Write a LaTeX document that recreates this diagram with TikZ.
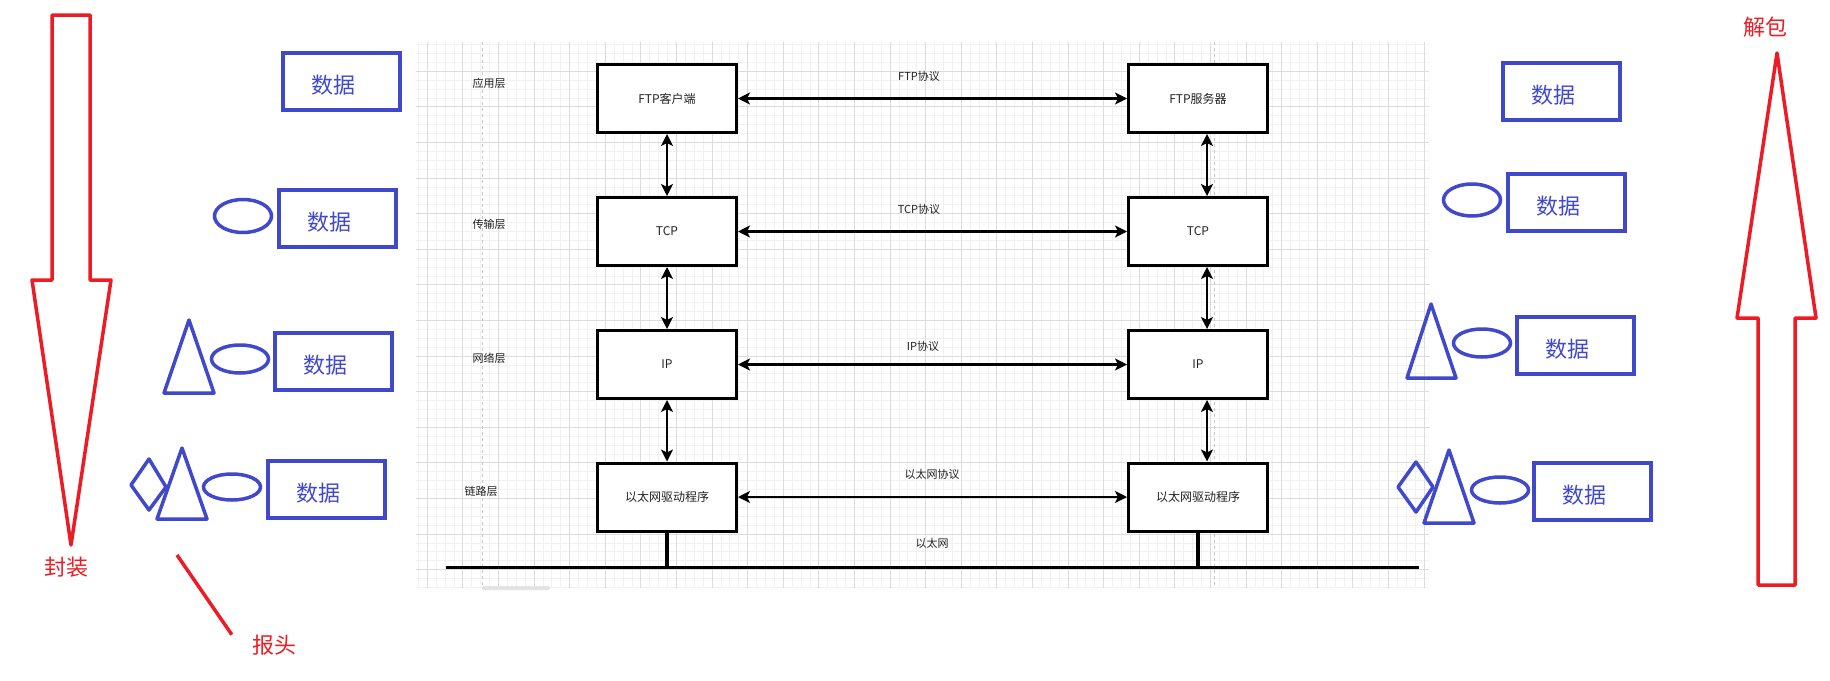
\documentclass[tikz,border=0pt]{standalone}
\usepackage{fontspec}
\setmainfont{Noto Sans CJK SC}
\usetikzlibrary{arrows.meta,shapes.geometric}
\definecolor{pblue}{RGB}{64,72,204}
\definecolor{pred}{RGB}{237,28,36}
\definecolor{gmaj}{RGB}{220,220,220}
\definecolor{gmin}{RGB}{241,241,241}
\definecolor{ink}{RGB}{34,34,34}
\begin{document}
\begin{tikzpicture}[x=1pt,y=-1pt,
  layerbox/.style={draw=black,line width=3pt,fill=white,minimum width=139pt,minimum height=68pt,inner sep=0pt,font=\fontsize{12}{14}\selectfont,text=ink},
  small/.style={font=\fontsize{11}{13}\selectfont,text=ink,inner sep=0pt},
  link/.style={line width=2.5pt,{Stealth[length=12pt,width=12pt,inset=3pt]}-{Stealth[length=12pt,width=12pt,inset=3pt]}},
  stub/.style={line width=3.5pt},
  databox/.style={draw=pblue,line width=4pt,minimum width=117pt,minimum height=57pt,inner sep=0pt},
  datatext/.style={text=pblue,font=\fontsize{22}{24}\selectfont,inner sep=0pt},
  hdr/.style={draw=pblue,line width=3.5pt,line join=round},
  hell/.style={ellipse,draw=pblue,line width=3.5pt,inner sep=0pt,minimum width=57pt,minimum height=28pt},
  redarrow/.style={draw=pred,line width=3.5pt,line join=round},
  redtext/.style={text=pred,font=\fontsize{22}{24}\selectfont,inner sep=0pt}
]
\useasboundingbox[fill=white] (0,0) rectangle (1830,680);

% grid background
\begin{scope}
  \clip (416,42) rectangle (1429,588);
  \draw[gmin,line width=0.7pt,step=8.9pt] (416,42) grid (1429,588);
  \draw[gmaj,line width=0.9pt,step=35.6pt] (416,42) grid (1429,588);
\end{scope}
\draw[gray!45,line width=1pt,dash pattern=on 3pt off 3pt] (482,42) -- (482,588);
\draw[gray!45,line width=1pt,dash pattern=on 3pt off 3pt] (1214,42) -- (1214,588);
\fill[gray!22,rounded corners=1.5pt] (482,586) rectangle (550,590);

% layer labels
\node[small] (l1) at (489,83) {应用层};
\node[small] (l2) at (489,224) {传输层};
\node[small] (l3) at (489,358) {网络层};
\node[small] (l4) at (481,491) {链路层};

% left stack
\node[layerbox] (c1) at (667,98.5) {FTP客户端};
\node[layerbox] (c2) at (667,231.5) {TCP};
\node[layerbox] (c3) at (667,364.5) {IP};
\node[layerbox] (c4) at (667,497) {以太网驱动程序};
% right stack
\node[layerbox] (s1) at (1198,98.5) {FTP服务器};
\node[layerbox] (s2) at (1198,231.5) {TCP};
\node[layerbox] (s3) at (1198,364.5) {IP};
\node[layerbox] (s4) at (1198,497) {以太网驱动程序};

% vertical links
\draw[link] (c1.south) -- (c2.north);
\draw[link] (c2.south) -- (c3.north);
\draw[link] (c3.south) -- (c4.north);
\draw[link] ([xshift=9pt]s1.south) -- ([xshift=9pt]s2.north);
\draw[link] ([xshift=9pt]s2.south) -- ([xshift=9pt]s3.north);
\draw[link] ([xshift=9pt]s3.south) -- ([xshift=9pt]s4.north);

% horizontal links
\draw[link] (c1.east) -- (s1.west);
\draw[link] (c2.east) -- (s2.west);
\draw[link] (c3.east) -- (s3.west);
\draw[link] (c4.east) -- (s4.west);
\node[small] (p1) at (919,76) {FTP协议};
\node[small] (p2) at (919,209) {TCP协议};
\node[small] (p3) at (923,346) {IP协议};
\node[small] (p4) at (932,474) {以太网协议};
\node[small] (p5) at (932,543) {以太网};

% bus
\coordinate (busL) at (446,567);
\coordinate (busR) at (1419,567);
\draw[line width=3pt] (busL) -- (busR);
\draw[stub] (c4.south) -- (c4.south |- busL);
\draw[stub] (s4.south) -- (s4.south |- busL);

% left encapsulation
\node[databox] (b1) at (341.5,81.5) {};
\node[datatext] (t1) at ([shift={(-8,4)}]b1.center) {数据};
\node[databox] (b2) at (337.5,218.5) {};
\node[datatext] (t2) at ([shift={(-8,4)}]b2.center) {数据};
\node[hell,minimum height=33pt] (e2) at (243,216) {};
\node[databox] (b3) at (333.5,361) {};
\node[datatext] (t3) at ([shift={(-8,4)}]b3.center) {数据};
\node[hell] (e3) at (240,359) {};
\draw[hdr] (189,320) -- (214,393) -- (164,393) -- cycle;
\node[databox] (b4) at (326,489) {};
\node[datatext] (t4) at ([shift={(-8,4)}]b4.center) {数据};
\node[hell,minimum height=26pt] (e4) at (232,487) {};
\draw[hdr] (182,448) -- (207,519) -- (157,519) -- cycle;
\draw[hdr] (131,485) -- (149,459) -- (166,487) -- (149,510) -- cycle;

% right decapsulation
\node[databox] (r1) at (1561.5,91) {};
\node[datatext] (u1) at ([shift={(-8,4)}]r1.center) {数据};
\node[databox] (r2) at (1566.5,202.5) {};
\node[datatext] (u2) at ([shift={(-8,4)}]r2.center) {数据};
\node[hell,minimum height=32pt] (f2) at (1472,200) {};
\node[databox] (r3) at (1575.5,345) {};
\node[datatext] (u3) at ([shift={(-8,4)}]r3.center) {数据};
\node[hell] (f3) at (1482,343) {};
\draw[hdr] (1431,304) -- (1456,378) -- (1407,378) -- cycle;
\node[databox] (r4) at (1592.5,491) {};
\node[datatext] (u4) at ([shift={(-8,4)}]r4.center) {数据};
\node[hell,minimum height=26pt] (f4) at (1500,490) {};
\draw[hdr] (1449,450) -- (1474,523) -- (1424,523) -- cycle;
\draw[hdr] (1398,487) -- (1416,462) -- (1433,487) -- (1416,512) -- cycle;

% red arrows and labels
\draw[redarrow] (52,15) -- (90,15) -- (90,280) -- (111,280) -- (71,545) -- (32,280) -- (52,280) -- cycle;
\node[redtext] (enc) at (66,567) {封装};
\node[redtext] (hd) at (274,645) {报头};
\coordinate (hdptr) at (177,555);
\draw[draw=pred,line width=3.5pt] (hdptr) -- ([xshift=-20pt,yshift=0pt]hd.north west);
\draw[redarrow] (1758,585) -- (1795,585) -- (1795,318) -- (1816,318) -- (1777,53) -- (1737,318) -- (1758,318) -- cycle;
\node[redtext] (dec) at (1765,27) {解包};
\end{tikzpicture}
\end{document}
